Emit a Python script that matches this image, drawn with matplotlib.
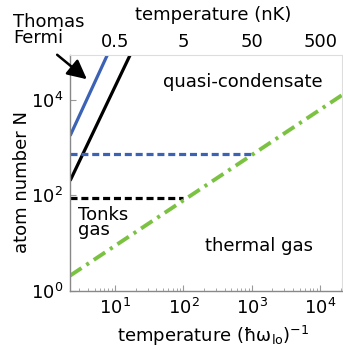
import numpy as np
import matplotlib
matplotlib.use("Agg")
import matplotlib.pyplot as plt

# temperature in units of (hbar omega_lo)^-1 and atom number N
tf_blue_T = [2.2, 7.7]
tf_blue_N = [1780, 87000]
tf_black_T = [2.2, 16.6]
tf_black_N = [204, 87000]
tonks_blue_T = [2.2, 1000]
tonks_blue_N = [750, 750]
tonks_black_T = [2.2, 100]
tonks_black_N = [87, 87]
thermal_T = [2.2, 20900]
thermal_N = [2.1, 12600]

bottom_ticks = [10, 100, 1000, 10000]
bottom_labels = ["$10^{1}$", "$10^{2}$", "$10^{3}$", "$10^{4}$"]
left_ticks = [1, 100, 10000]
left_labels = ["$10^{0}$", "$10^{2}$", "$10^{4}$"]
top_ticks = [0.5, 5, 50, 500]
top_labels = ["0.5", "5", "50", "500"]
nK_per_unit = 0.05

plt.rcParams["mathtext.fontset"] = "dejavusans"
plt.rcParams["font.size"] = 13

W, H = 343, 350
fig = plt.figure(figsize=(W / 100, H / 100), dpi=100)
ax = fig.add_axes([70 / W, 1 - 291 / H, 272 / W, 236 / H])
ax.set_xscale("log")
ax.set_yscale("log")

blue = "#3b62b5"
green = "#7cc242"
ax.plot(tf_blue_T, tf_blue_N, color=blue, lw=2.3, solid_capstyle="butt")
ax.plot(tf_black_T, tf_black_N, color="black", lw=2.3, solid_capstyle="butt")
ax.plot(tonks_blue_T, tonks_blue_N, color=blue, lw=2.3, ls=(0, (2.2, 1.2)))
ax.plot(tonks_black_T, tonks_black_N, color="black", lw=2.3, ls=(0, (2.2, 1.2)))
ax.plot(thermal_T, thermal_N, color=green, lw=2.8, ls=(0, (3.5, 1.5, 0.8, 1.5)))

ax.set_xlim(2.19, 20900)
ax.set_ylim(1, 87000)

ax.set_xticks(bottom_ticks)
ax.set_xticklabels(bottom_labels)
ax.set_yticks(left_ticks)
ax.set_yticklabels(left_labels)
ax.tick_params(which="both", direction="in", color="#999999", labelsize=13)
ax.tick_params(which="major", length=4, width=0.8, pad=5)
ax.tick_params(which="minor", length=2, width=0.6)
ax.yaxis.set_minor_locator(matplotlib.ticker.NullLocator())
for side in ["left", "bottom"]:
    ax.spines[side].set_color("#888888")
    ax.spines[side].set_linewidth(1.0)
for side in ["top", "right"]:
    ax.spines[side].set_color("#dddddd")
    ax.spines[side].set_linewidth(0.8)

sec = ax.secondary_xaxis("top", functions=(lambda x: x * nK_per_unit,
                                           lambda x: x / nK_per_unit))
sec.set_xticks(top_ticks)
sec.set_xticklabels(top_labels)
sec.xaxis.set_minor_locator(matplotlib.ticker.NullLocator())
sec.tick_params(direction="in", length=0, pad=3, labelsize=13)
sec.spines["top"].set_visible(False)

fig.text(213 / W, 1 - 15 / H, "temperature (nK)", ha="center", va="center", fontsize=13)
fig.text(213 / W, 1 - 336 / H, "temperature (ħω$_{\\rm lo}$)$^{-1}$",
         ha="center", va="center", fontsize=13)
fig.text(22 / W, 1 - 182 / H, "atom number N", rotation=90,
         ha="center", va="center", fontsize=13)

fig.text(13 / W, 1 - 13 / H, "Thomas\nFermi", ha="left", va="top",
         fontsize=13, linespacing=0.85)
ax.annotate("", xy=(89 / W, 1 - 81 / H), xytext=(55 / W, 1 - 53 / H),
            xycoords="figure fraction", textcoords="figure fraction",
            arrowprops=dict(arrowstyle="-|>,head_length=0.9,head_width=0.45",
                            color="black", lw=1.8))
fig.text(243 / W, 1 - 82 / H, "quasi-condensate", ha="center", va="center", fontsize=13)
fig.text(78 / W, 1 - 206 / H, "Tonks\ngas", ha="left", va="top",
         fontsize=13, linespacing=0.8)
fig.text(259 / W, 1 - 246 / H, "thermal gas", ha="center", va="center", fontsize=13)

fig.savefig("out.png", dpi=100)
